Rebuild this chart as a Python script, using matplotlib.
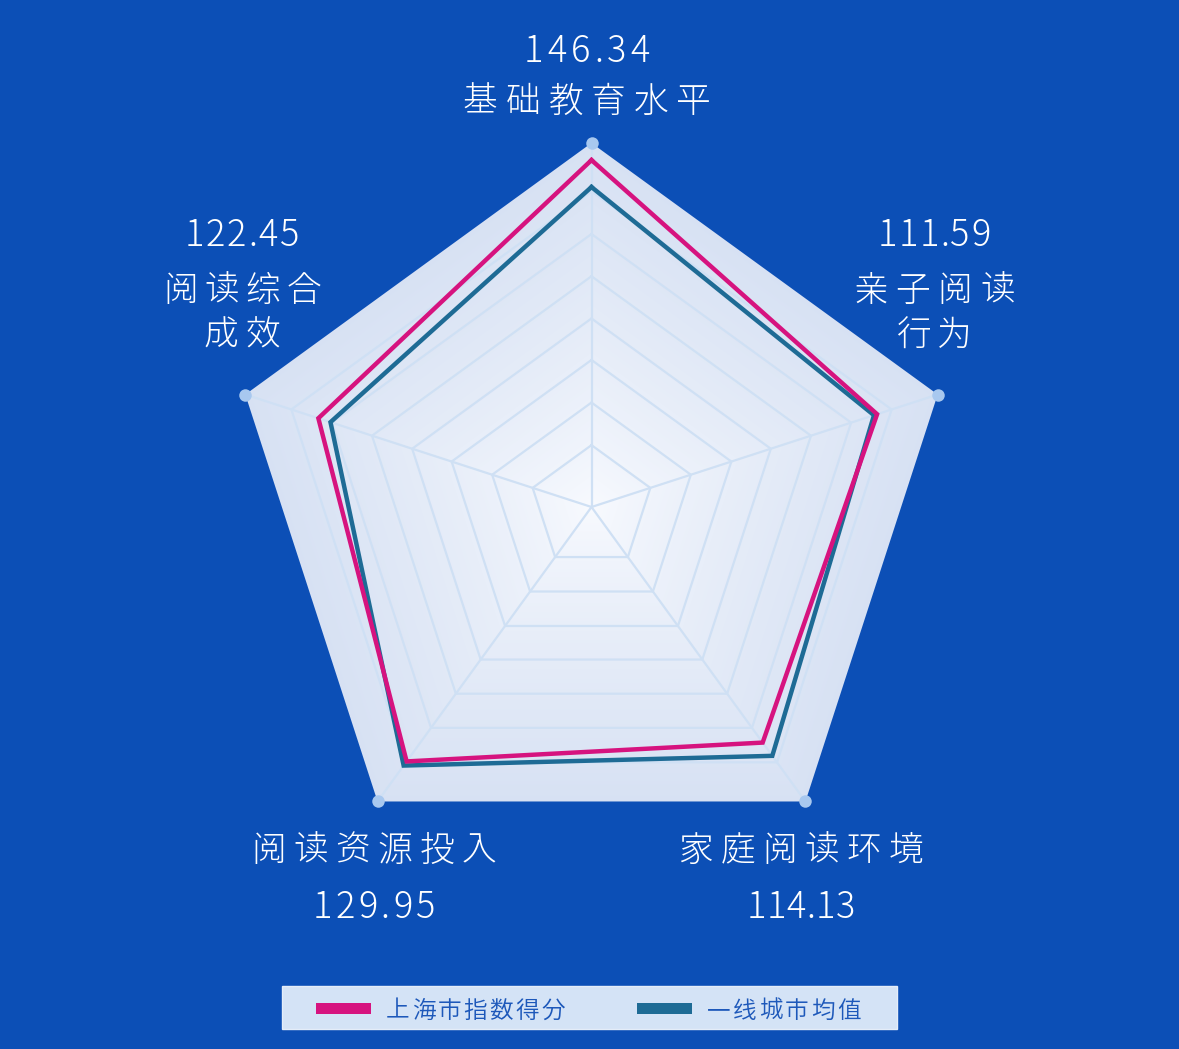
import numpy as np
import matplotlib
matplotlib.use("Agg")
import matplotlib.pyplot as plt
from matplotlib.patches import Polygon, Rectangle

# indicator names (clockwise from top) and the index value printed next to each
categories = ["基础教育水平", "亲子阅读\n行为", "家庭阅读环境", "阅读资源投入", "阅读综合\n成效"]
index_values = [146.34, 111.59, 114.13, 129.95, 122.45]

# radar values as drawn (fraction of outer radius)
shanghai = [0.953, 0.825, 0.800, 0.864, 0.789]
first_tier_avg = [0.879, 0.816, 0.845, 0.878, 0.754]
series_names = ["上海市指数得分", "一线城市均值"]

ring_levels = [0.170, 0.287, 0.404, 0.518, 0.634, 0.750, 0.867]

W, H = 1179, 1049
CX, CY, R = 591.5, 507.0, 364.0
BG = "#0c4fb6"
PINK = "#d6137f"
TEAL = "#1e6b95"
FONTS = ["Noto Sans CJK JP", "DejaVu Sans"]

fig = plt.figure(figsize=(W / 100, H / 100), dpi=100)
fig.patch.set_facecolor(BG)
ax = fig.add_axes([0, 0, 1, 1])
ax.set_facecolor(BG)
ax.set_xlim(-CX / R, (W - CX) / R)
ax.set_ylim((CY - H) / R, CY / R)
ax.axis("off")

n = len(categories)
theta = np.pi / 2 - 2 * np.pi * np.arange(n) / n


def ring(r):
    r = np.broadcast_to(np.asarray(r, dtype=float), (n,))
    x = r * np.cos(theta)
    y = r * np.sin(theta)
    return np.append(x, x[0]), np.append(y, y[0])


# filled area with a soft gradient, pentagon shaped
ox, oy = ring(1.0)
outer = Polygon(np.column_stack([ox, oy]), closed=True, facecolor="none", edgecolor="none")
ax.add_patch(outer)
gx = np.linspace(-1.02, 1.02, 700)
gy = np.linspace(-1.02, 1.02, 700)
X, Y = np.meshgrid(gx, gy)
normals = theta - np.pi / n
pent = np.max([X * np.cos(a) + Y * np.sin(a) for a in normals], axis=0) / np.cos(np.pi / n)
t = np.clip(pent, 0, 1)[..., None] ** 0.8
c0 = np.array([0.975, 0.982, 0.998])
c1 = np.array([0.845, 0.885, 0.955])
img = c0 + (c1 - c0) * t
im = ax.imshow(img, extent=[-1.02, 1.02, -1.02, 1.02], origin="lower",
               interpolation="bilinear", zorder=1)
im.set_clip_path(outer)

# grid rings and spokes
for lv in ring_levels:
    rx, ry = ring(lv)
    ax.plot(rx, ry, color="#cfe0f4", lw=1.6, zorder=2)
for a in theta:
    ax.plot([0, np.cos(a)], [0, np.sin(a)], color="#cfe0f4", lw=1.6, zorder=2)

# series
tx, ty = ring(first_tier_avg)
ax.plot(tx, ty, color=TEAL, lw=3.2, solid_joinstyle="miter", zorder=4)
sx, sy = ring(shanghai)
ax.plot(sx, sy, color=PINK, lw=3.2, solid_joinstyle="miter", zorder=5)

# outer vertex dots
ax.plot(np.cos(theta), np.sin(theta), "o", ms=9, color="#a8c8ef", mec="none", zorder=6)

renderer = fig.canvas.get_renderer()


def tracked_text(xc, yc, s, size, width, color, weight=300):
    props = dict(fontsize=size, family=FONTS, weight=weight, color=color)
    widths = []
    for ch in s:
        tt = fig.text(0, 0, ch, **props)
        widths.append(tt.get_window_extent(renderer).width)
        tt.remove()
    track = (width - sum(widths)) / max(len(s) - 1, 1)
    x = xc - width / 2
    base = yc + 0.37 * size * 100 / 72
    for ch, w in zip(s, widths):
        fig.text(x / W, 1 - base / H, ch, ha="left", va="baseline", **props)
        x += w + track


# label layout: (x centre, value y, first name line y, line gap)
label_pos = [
    (587, 48.5, 99, 0),
    (934, 233, 288, 45),
    (801, 905, 848, 0),
    (374, 905, 848, 0),
    (242, 233, 288, 45),
]
name_widths = {"基础教育水平": 248, "亲子阅读": 162, "行为": 75, "家庭阅读环境": 245,
               "阅读资源投入": 245, "阅读综合": 158, "成效": 77}
value_widths = [126, 113, 108, 122, 115]

for i, (name, val) in enumerate(zip(categories, index_values)):
    xc, vy, ny, gap = label_pos[i]
    tracked_text(xc, vy, f"{val:.2f}", 26, value_widths[i], "white")
    for j, line in enumerate(name.split("\n")):
        tracked_text(xc, ny + j * gap, line, 25, name_widths[line], "white")

# legend
fig.patches.append(Rectangle((282 / W, 1 - 1029 / H), 615 / W, 43 / H,
                             transform=fig.transFigure, facecolor="#d4e3f6",
                             edgecolor="#e4edf9", lw=1, zorder=1))
for x0, col, name, tw in [(316, PINK, series_names[0], 179), (637, TEAL, series_names[1], 154)]:
    fig.patches.append(Rectangle((x0 / W, 1 - 1014 / H), 55 / W, 11 / H,
                                 transform=fig.transFigure, facecolor=col,
                                 edgecolor="none", zorder=2))
    tracked_text(x0 + 70 + tw / 2, 1009, name, 17, tw, "#1d58ba", weight=350)

fig.savefig("out.png", dpi=100, facecolor=BG)
